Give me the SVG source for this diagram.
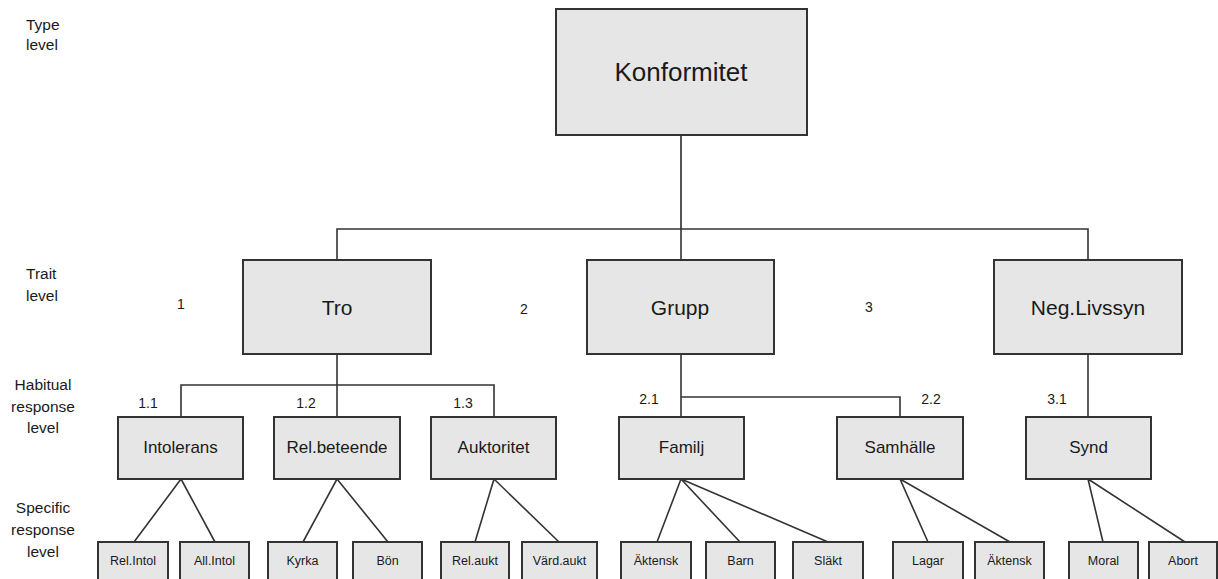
<svg xmlns="http://www.w3.org/2000/svg" width="1218" height="579" viewBox="0 0 1218 579">
<style>
.box{fill:#e6e6e6;stroke:#333;stroke-width:2}
.ln{stroke:#333;stroke-width:1.6;fill:none}
text{font-family:"Liberation Sans",Arial,sans-serif;fill:#1a1a1a}
.t1{font-size:26px;text-anchor:middle}
.t2{font-size:21px;text-anchor:middle}
.t3{font-size:17px;text-anchor:middle}
.t4{font-size:12.5px;text-anchor:middle}
.num{font-size:14px;text-anchor:middle}
.lvl{font-size:15.5px}
.lvc{font-size:15.5px;text-anchor:middle}
</style>
<rect width="1218" height="579" fill="#fff"/>
<g id="level-labels">
<text class="lvl" x="26" y="30">Type</text>
<text class="lvl" x="26" y="50">level</text>
<text class="lvl" x="26" y="279">Trait</text>
<text class="lvl" x="26" y="301">level</text>
<text class="lvc" x="43" y="390">Habitual</text>
<text class="lvc" x="43" y="412">response</text>
<text class="lvc" x="43" y="433">level</text>
<text class="lvc" x="43" y="513">Specific</text>
<text class="lvc" x="43" y="535">response</text>
<text class="lvc" x="43" y="557">level</text>
</g>
<g id="connectors">
<path class="ln" style="stroke:#555;stroke-width:2" d="M681 135V229"/>
<path class="ln" d="M337 260V229H1088V260M681 229V260"/>
<path class="ln" d="M337 354V385M181 417V385H494V417M337 385V417"/>
<path class="ln" d="M681 354V417M681 397H900V417"/>
<path class="ln" d="M1088 354V417"/>
<path class="ln" d="M181 479L134 542M181 479L215 542"/>
<path class="ln" d="M337 479L303 542M337 479L388 542"/>
<path class="ln" d="M494 479L475 542M494 479L559 542"/>
<path class="ln" d="M681 479L657 542M681 479L740 542M681 479L828 542"/>
<path class="ln" d="M900 479L928 542M900 479L1010 542"/>
<path class="ln" d="M1088 479L1103 542M1088 479L1185 542"/>
</g>
<g id="trait-numbers">
<text class="num" x="181" y="309">1</text>
<text class="num" x="524" y="314">2</text>
<text class="num" x="869" y="312">3</text>
<text class="num" x="148" y="408">1.1</text>
<text class="num" x="306" y="408">1.2</text>
<text class="num" x="463" y="408">1.3</text>
<text class="num" x="649" y="404">2.1</text>
<text class="num" x="931" y="404">2.2</text>
<text class="num" x="1057" y="404">3.1</text>
</g>
<g id="n-konformitet"><rect class="box" x="556" y="9" width="251" height="126"/><text class="t1" x="681" y="81">Konformitet</text></g>
<g id="n-tro"><rect class="box" x="243" y="260" width="188" height="94"/><text class="t2" x="337" y="315">Tro</text></g>
<g id="n-grupp"><rect class="box" x="587" y="260" width="187" height="94"/><text class="t2" x="680" y="315">Grupp</text></g>
<g id="n-neglivssyn"><rect class="box" x="994" y="260" width="188" height="94"/><text class="t2" x="1088" y="315">Neg.Livssyn</text></g>
<g id="n-intolerans"><rect class="box" x="118" y="417" width="125" height="62"/><text class="t3" x="180.5" y="453">Intolerans</text></g>
<g id="n-relbeteende"><rect class="box" x="274" y="417" width="126" height="62"/><text class="t3" x="337" y="453">Rel.beteende</text></g>
<g id="n-auktoritet"><rect class="box" x="431" y="417" width="125" height="62"/><text class="t3" x="493.5" y="453">Auktoritet</text></g>
<g id="n-familj"><rect class="box" x="619" y="417" width="125" height="62"/><text class="t3" x="681.5" y="453">Familj</text></g>
<g id="n-samhalle"><rect class="box" x="837" y="417" width="126" height="62"/><text class="t3" x="900" y="453">Samhälle</text></g>
<g id="n-synd"><rect class="box" x="1026" y="417" width="125" height="62"/><text class="t3" x="1088.5" y="453">Synd</text></g>
<g id="n-relintol"><rect class="box" x="98" y="542" width="70" height="50"/><text class="t4" x="133" y="565">Rel.Intol</text></g>
<g id="n-allintol"><rect class="box" x="180" y="542" width="69" height="50"/><text class="t4" x="214.5" y="565">All.Intol</text></g>
<g id="n-kyrka"><rect class="box" x="268" y="542" width="69" height="50"/><text class="t4" x="302.5" y="565">Kyrka</text></g>
<g id="n-bon"><rect class="box" x="353" y="542" width="69" height="50"/><text class="t4" x="387.5" y="565">Bön</text></g>
<g id="n-relaukt"><rect class="box" x="441" y="542" width="68" height="50"/><text class="t4" x="475" y="565">Rel.aukt</text></g>
<g id="n-vardaukt"><rect class="box" x="522" y="542" width="75" height="50"/><text class="t4" x="559.5" y="565">Värd.aukt</text></g>
<g id="n-aktensk1"><rect class="box" x="621" y="542" width="70" height="50"/><text class="t4" x="656" y="565">Äktensk</text></g>
<g id="n-barn"><rect class="box" x="706" y="542" width="69" height="50"/><text class="t4" x="740.5" y="565">Barn</text></g>
<g id="n-slakt"><rect class="box" x="793" y="542" width="70" height="50"/><text class="t4" x="828" y="565">Släkt</text></g>
<g id="n-lagar"><rect class="box" x="893" y="542" width="70" height="50"/><text class="t4" x="928" y="565">Lagar</text></g>
<g id="n-aktensk2"><rect class="box" x="975" y="542" width="69" height="50"/><text class="t4" x="1009.5" y="565">Äktensk</text></g>
<g id="n-moral"><rect class="box" x="1069" y="542" width="69" height="50"/><text class="t4" x="1103.5" y="565">Moral</text></g>
<g id="n-abort"><rect class="box" x="1149" y="542" width="68" height="50"/><text class="t4" x="1183" y="565">Abort</text></g>
</svg>
